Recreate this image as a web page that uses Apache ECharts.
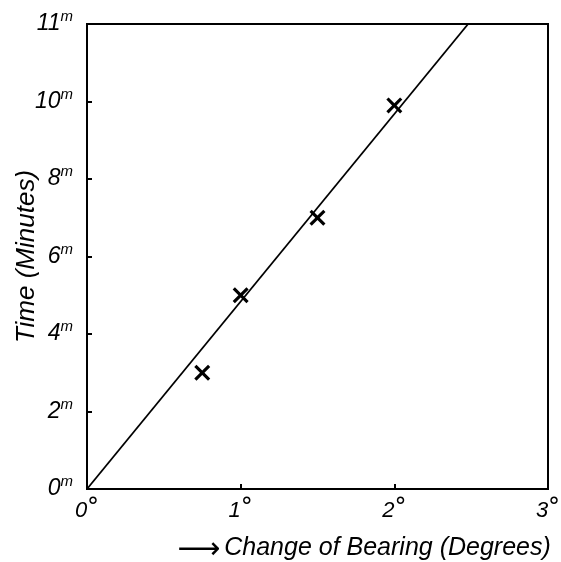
<!DOCTYPE html>
<html><head><meta charset="utf-8">
<script src="https://cdn.jsdelivr.net/npm/echarts@6/dist/echarts.min.js"></script>
<style>html,body{margin:0;padding:0;background:#fff}#c{width:561px;height:562px}</style>
</head><body><div id="c"></div>
<script>
const bearingDeg = [0.75, 1.0, 1.5, 2.0];
const timeMin = [3.0, 5.0, 7.0, 9.9];
// Fitted straight line (as drawn)
const lineX = [0, 2.48];
const lineY = [0, 12];
// Tick labels
const xTickLabels = ['0', '1', '2', '3'];
const yTickValues = [0, 2, 4, 6, 8, 10, 12];
const yTickLabels = ['0', '2', '4', '6', '8', '10', '11'];

const FONT = 'Liberation Sans';
const chart = echarts.init(document.getElementById('c'));
const cross = 'path://M0,1.4L1.4,0L5,3.6L8.6,0L10,1.4L6.4,5L10,8.6L8.6,10L5,6.4L1.4,10L0,8.6L3.6,5Z';
chart.setOption({
  animation: false,
  backgroundColor: '#fff',
  grid: {left: 87, top: 24, right: 13, bottom: 73, show: true, borderColor: '#000', borderWidth: 2,
         containLabel: false, outerBoundsMode: 'none'},
  xAxis: {
    type: 'value', min: 0, max: 3, interval: 1,
    axisLine: {show: true, lineStyle: {color: '#000', width: 2}},
    axisTick: {show: true, inside: true, length: 5, lineStyle: {color: '#000', width: 2}},
    splitLine: {show: false},
    axisLabel: {
      margin: 8,
      formatter: v => '{a|' + xTickLabels[Math.round(v)] + '}{s|°}',
      rich: {
        a: {fontFamily: FONT, fontStyle: 'italic', fontSize: 22, color: '#000'},
        s: {fontFamily: 'DejaVu Sans', fontSize: 24, color: '#000', padding: [0, 0, 4, 0]}
      }
    },
    name: '{arr|⟶}{t|Change of Bearing (Degrees)}',
    nameLocation: 'middle', nameGap: 42, nameMoveOverlap: false,
    nameTextStyle: {
      padding: [0, 0, 0, 93],
      rich: {
        arr: {fontFamily: 'DejaVu Sans', fontSize: 30, color: '#000', padding: [4, 4, 0, 0]},
        t: {fontFamily: FONT, fontStyle: 'italic', fontSize: 25, color: '#000'}
      }
    }
  },
  yAxis: {
    type: 'value', min: 0, max: 12, interval: 2,
    axisLine: {show: true, lineStyle: {color: '#000', width: 2}},
    axisTick: {show: true, inside: true, length: 5, lineStyle: {color: '#000', width: 2}},
    splitLine: {show: false},
    axisLabel: {
      margin: 14,
      formatter: v => {
        const i = yTickValues.indexOf(Math.round(v));
        return '{a|' + (i >= 0 ? yTickLabels[i] : '') + '}{s|m}';
      },
      rich: {
        a: {fontFamily: FONT, fontStyle: 'italic', fontSize: 23, color: '#000'},
        s: {fontFamily: FONT, fontStyle: 'italic', fontSize: 15, color: '#000', padding: [0, 0, 14, 0]}
      }
    },
    name: 'Time (Minutes)',
    nameLocation: 'middle', nameGap: 47, nameRotate: 90, nameMoveOverlap: false,
    nameTextStyle: {fontFamily: FONT, fontStyle: 'italic', fontSize: 26, color: '#000'}
  },
  series: [
    {
      type: 'line', data: lineX.map((x, i) => [x, lineY[i]]),
      symbol: 'none', lineStyle: {color: '#000', width: 1.8}, silent: true
    },
    {
      type: 'scatter', data: bearingDeg.map((x, i) => [x, timeMin[i]]),
      symbol: cross, symbolSize: 16, itemStyle: {color: '#000', opacity: 1}
    }
  ]
});
</script></body></html>
